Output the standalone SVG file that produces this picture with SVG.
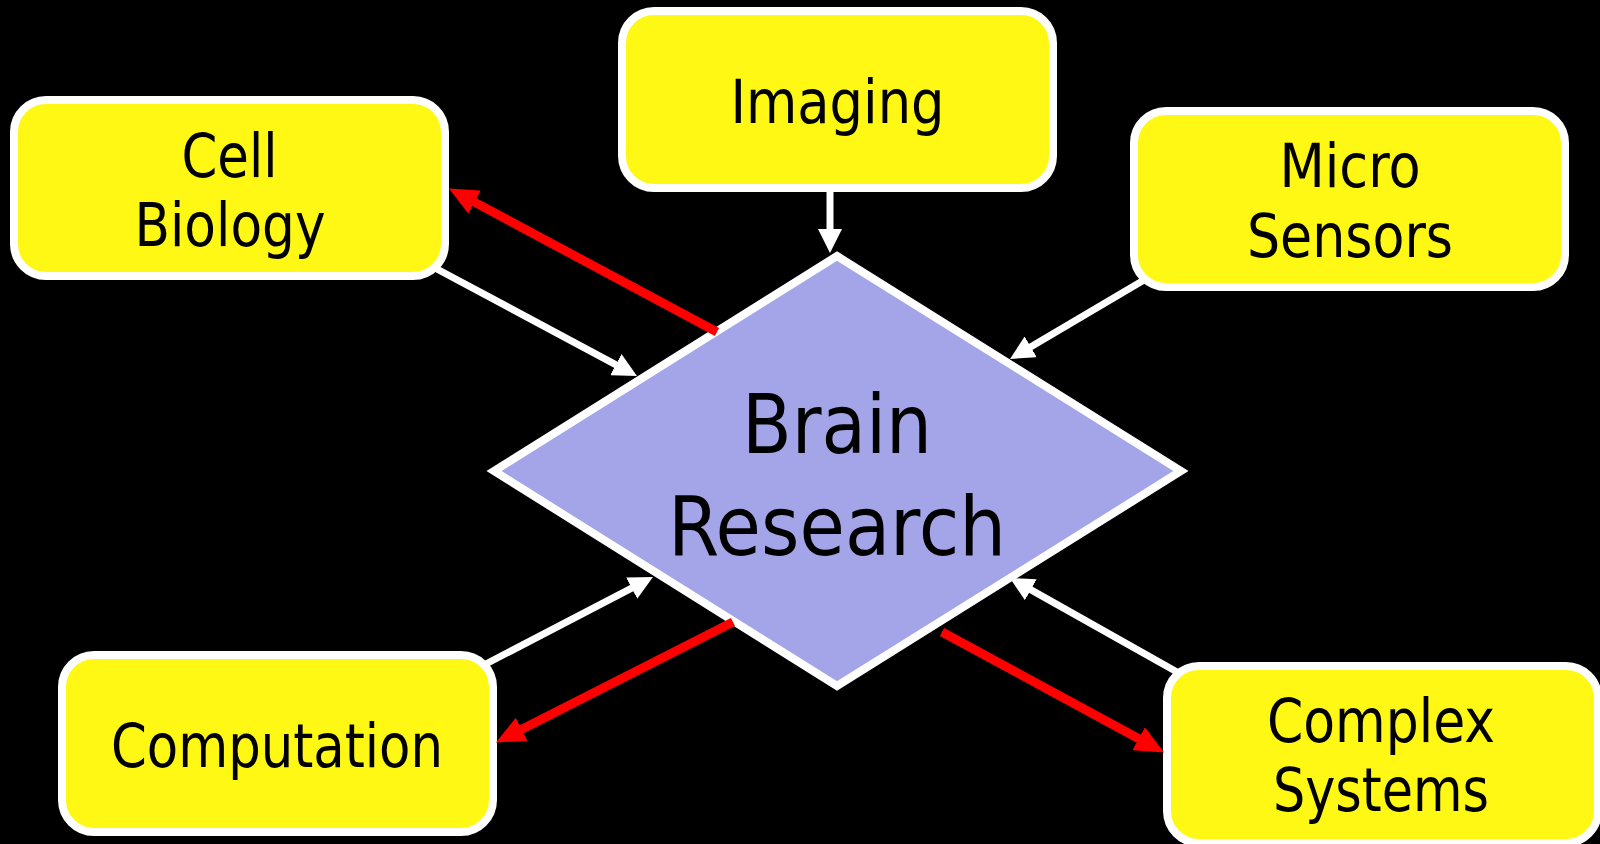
<svg xmlns="http://www.w3.org/2000/svg" width="1600" height="844" viewBox="0 0 1600 844">
<style>
.box{fill:#FFF714;stroke:#FFFFFF;stroke-width:8}
.dia{fill:#A3A5E8;stroke:#FFFFFF;stroke-width:8;stroke-linejoin:miter}
.t{font-family:"DejaVu Sans Condensed","DejaVu Sans",sans-serif;font-size:60px;fill:#000;text-anchor:middle}
.tb{font-family:"DejaVu Sans Condensed","DejaVu Sans",sans-serif;font-size:82px;fill:#000;text-anchor:middle}
.w{stroke:#FFFFFF;stroke-width:7;fill:none;marker-end:url(#aw)}
.r{stroke:#FF0000;stroke-width:9;fill:none;marker-end:url(#ar)}
</style>
<defs>
<marker id="aw" markerUnits="userSpaceOnUse" markerWidth="24" markerHeight="24" refX="13" refY="12" orient="auto" viewBox="0 0 24 24"><path d="M0,0 L24,12 L0,24 z" fill="#FFFFFF"/></marker>
<marker id="ar" markerUnits="userSpaceOnUse" markerWidth="29" markerHeight="26" refX="17" refY="13" orient="auto" viewBox="0 0 29 26"><path d="M0,0 L29,13 L0,26 z" fill="#FF0000"/></marker>
</defs>
<rect x="0" y="0" width="1600" height="844" fill="#000"/>
<g id="brain-research">
<polygon class="dia" points="837,256 1181,471 837,686 494,471"/>
<text class="tb" x="837" y="453" textLength="190" lengthAdjust="spacingAndGlyphs">Brain</text>
<text class="tb" x="837" y="555" textLength="338" lengthAdjust="spacingAndGlyphs">Research</text>
</g>
<g id="cell-biology">
<rect class="box" x="14" y="100" width="431" height="176" rx="32"/>
<text class="t" x="229.5" y="177" textLength="96" lengthAdjust="spacingAndGlyphs">Cell</text>
<text class="t" x="230" y="246" textLength="191" lengthAdjust="spacingAndGlyphs">Biology</text>
</g>
<g id="imaging">
<rect class="box" x="622" y="11" width="431" height="177" rx="32"/>
<text class="t" x="837.5" y="123" textLength="214" lengthAdjust="spacingAndGlyphs">Imaging</text>
</g>
<g id="micro-sensors">
<rect class="box" x="1134" y="111" width="431" height="176" rx="32"/>
<text class="t" x="1350" y="187" textLength="141" lengthAdjust="spacingAndGlyphs">Micro</text>
<text class="t" x="1350" y="257" textLength="206" lengthAdjust="spacingAndGlyphs">Sensors</text>
</g>
<g id="computation">
<rect class="box" x="62" y="655" width="431" height="177" rx="32"/>
<text class="t" x="277" y="767" textLength="332" lengthAdjust="spacingAndGlyphs">Computation</text>
</g>
<g id="complex-systems">
<rect class="box" x="1167" y="666" width="431" height="177" rx="32"/>
<text class="t" x="1381" y="742" textLength="228" lengthAdjust="spacingAndGlyphs">Complex</text>
<text class="t" x="1381" y="811" textLength="216" lengthAdjust="spacingAndGlyphs">Systems</text>
</g>
<g id="connectors">
<line class="w" x1="435" y1="268" x2="627.3" y2="370.8"/>
<line class="r" x1="717" y1="332" x2="459.5" y2="194.1"/>
<line class="w" x1="830" y1="189" x2="830" y2="242"/>
<line class="w" x1="1144" y1="280" x2="1019.5" y2="353.4"/>
<line class="w" x1="482" y1="666" x2="643.2" y2="582.1"/>
<line class="r" x1="733" y1="622" x2="506.6" y2="737.1"/>
<line class="r" x1="942" y1="632" x2="1153.6" y2="746.8"/>
<line class="w" x1="1177" y1="672" x2="1019.5" y2="583.4"/>
</g>
</svg>
